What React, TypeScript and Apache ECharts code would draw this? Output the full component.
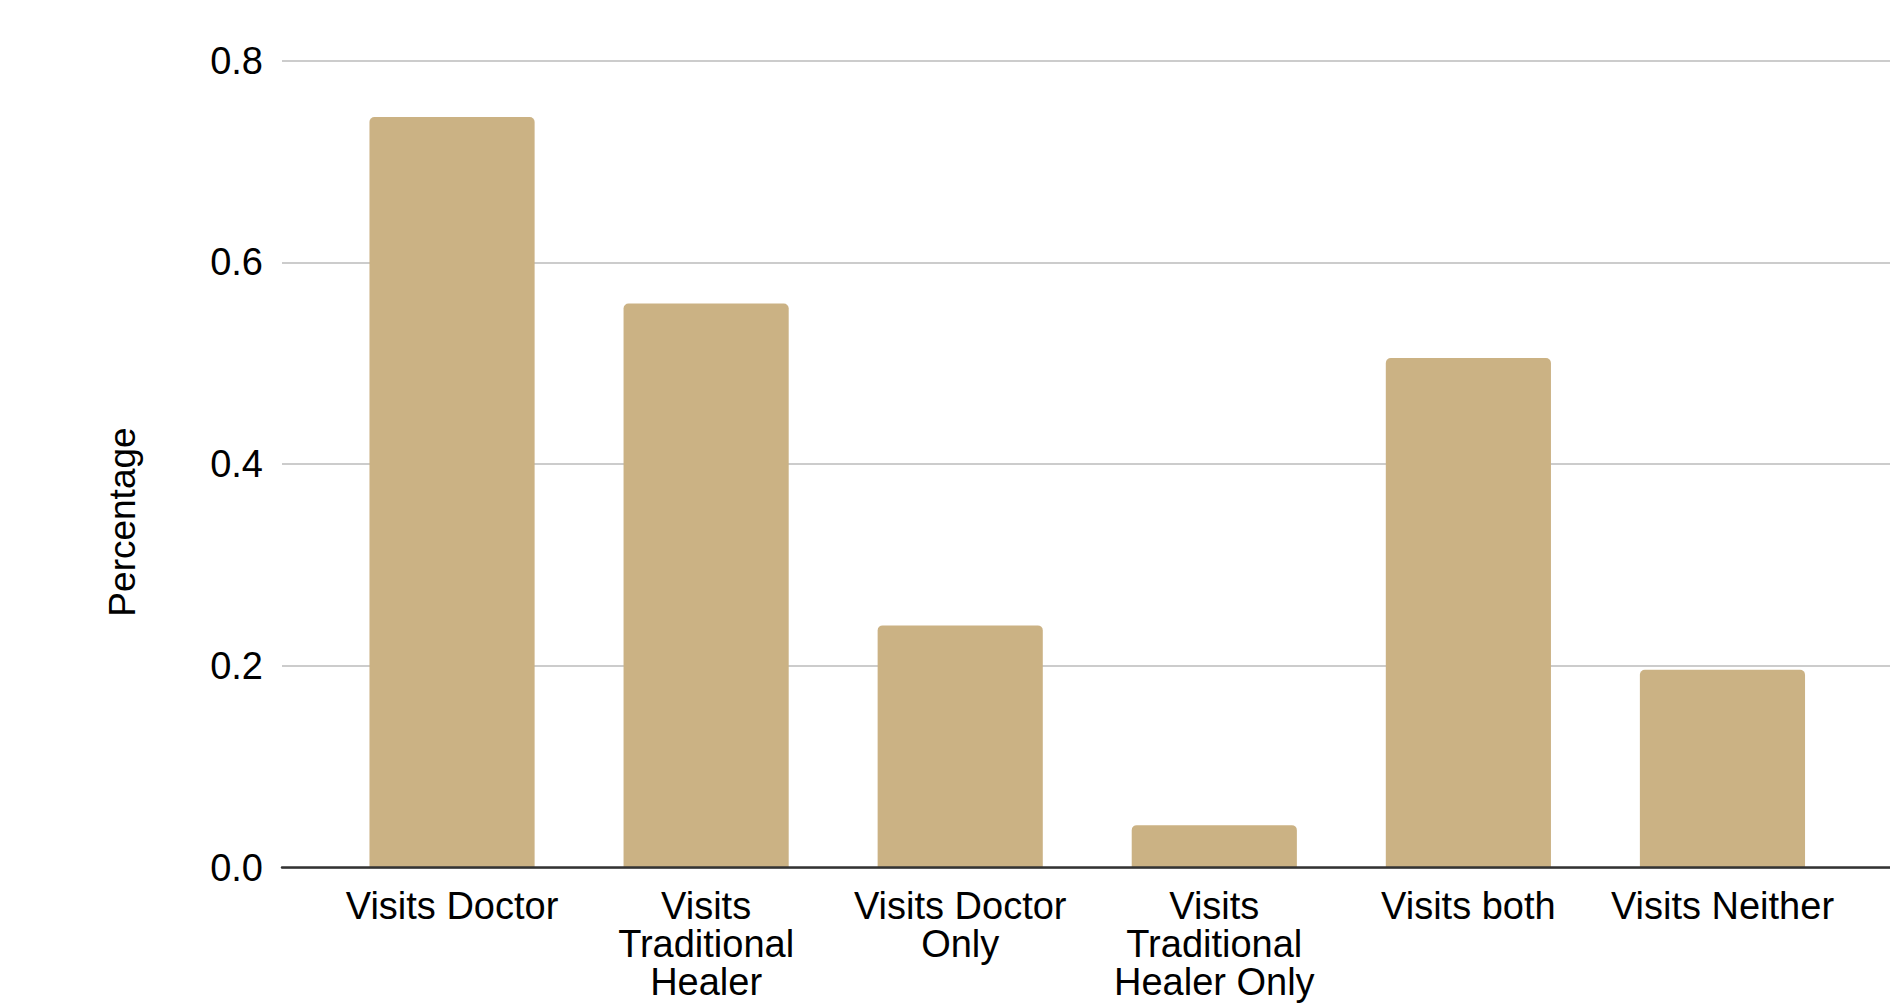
import React, { useEffect, useRef } from "react";
import * as echarts from "echarts";

// Share of respondents by care-seeking behaviour
const categories = [
  "Visits Doctor",
  "Visits Traditional Healer",
  "Visits Doctor Only",
  "Visits Traditional Healer Only",
  "Visits both",
  "Visits Neither",
];
const tickLabels = [
  "Visits Doctor",
  "Visits\nTraditional\nHealer",
  "Visits Doctor\nOnly",
  "Visits\nTraditional\nHealer Only",
  "Visits both",
  "Visits Neither",
];
const percentages = [0.744, 0.559, 0.24, 0.042, 0.505, 0.196];
const yTicks = { min: 0, max: 0.8, interval: 0.2 };
const yTitle = "Percentage";

const FONT = "'Liberation Sans', Arial, Helvetica, sans-serif";
const BAR_COLOR = "#CBB284";

export default function App() {
  const ref = useRef<HTMLDivElement>(null);

  useEffect(() => {
    if (!ref.current) return;
    const chart = echarts.init(ref.current, undefined, { renderer: "svg" });
    chart.setOption({
      animation: false,
      backgroundColor: "#ffffff",
      textStyle: { fontFamily: FONT },
      grid: [
        // bars
        { left: 325, right: 40.5, top: 60.5, bottom: 136.5 },
        // gridlines, y labels and baseline, full width
        { left: 282, right: 0, top: 60.5, bottom: 136.5 },
      ],
      graphic: [
        {
          type: "text",
          x: 122,
          y: 522,
          rotation: Math.PI / 2,
          style: {
            text: yTitle,
            fontSize: 37,
            fontFamily: FONT,
            fill: "#000",
            align: "center",
            verticalAlign: "middle",
          },
        },
      ],
      xAxis: [
        {
          type: "category",
          gridIndex: 0,
          data: categories,
          axisLine: { show: false },
          axisTick: { show: false },
          axisLabel: {
            margin: 19,
            fontSize: 38,
            lineHeight: 38,
            color: "#000",
            fontFamily: FONT,
            interval: 0,
            formatter: (_v: string, i: number) => tickLabels[i],
          },
        },
        {
          type: "value",
          gridIndex: 1,
          min: 0,
          max: 1,
          z: 5,
          axisLine: { show: true, lineStyle: { color: "#333", width: 2.5 } },
          axisTick: { show: false },
          axisLabel: { show: false },
          splitLine: { show: false },
        },
      ],
      yAxis: [
        {
          type: "value",
          gridIndex: 0,
          ...yTicks,
          axisLine: { show: false },
          axisTick: { show: false },
          axisLabel: { show: false },
          splitLine: { show: false },
        },
        {
          type: "value",
          gridIndex: 1,
          ...yTicks,
          z: 0,
          axisLine: { show: false },
          axisTick: { show: false },
          axisLabel: {
            margin: 19,
            fontSize: 38,
            color: "#000",
            fontFamily: FONT,
            formatter: (v: number) => v.toFixed(1),
          },
          splitLine: { show: true, lineStyle: { color: "#cccccc", width: 2 } },
        },
      ],
      series: [
        {
          type: "bar",
          xAxisIndex: 0,
          yAxisIndex: 0,
          data: percentages,
          barWidth: "65%",
          itemStyle: { color: BAR_COLOR, borderRadius: [5, 5, 0, 0] },
          z: 2,
        },
      ],
    });
    return () => chart.dispose();
  }, []);

  return (
    <div
      ref={ref}
      style={{ position: "absolute", left: 0, top: 0, width: 1890, height: 1004 }}
    />
  );
}
